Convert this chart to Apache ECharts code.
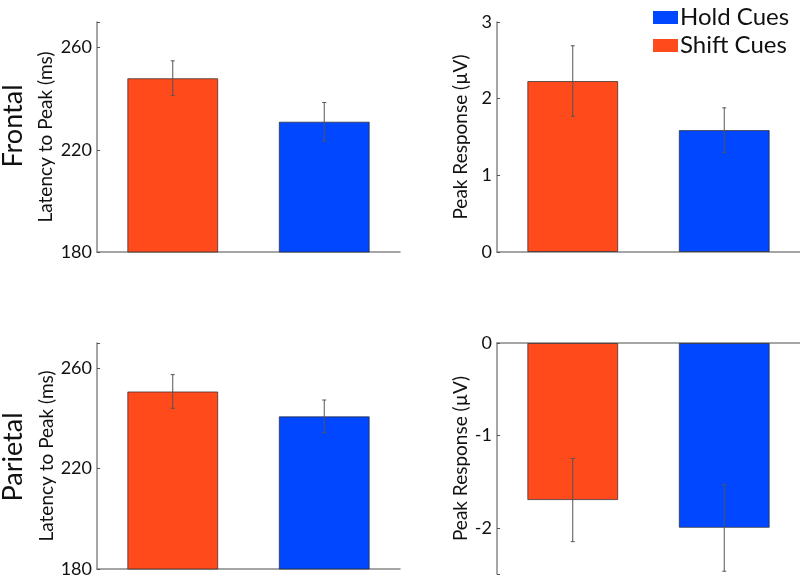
<!DOCTYPE html>
<html>
<head>
<meta charset="utf-8">
<script src="https://cdn.jsdelivr.net/npm/echarts@6/dist/echarts.min.js"></script>
<style>html,body{margin:0;padding:0;background:#fff;}#c{width:800px;height:578px;}</style>
</head>
<body>
<div id="c"></div>
<script>
const categories = ['Shift Cues', 'Hold Cues'];
const frontalLatency = [248, 231];
const frontalLatencyErr = [6.8, 7.5];
const frontalPeak = [2.23, 1.59];
const frontalPeakErr = [0.46, 0.29];
const parietalLatency = [250.7, 240.8];
const parietalLatencyErr = [6.7, 6.5];
const parietalPeak = [-1.70, -2.0];
const parietalPeakErr = [0.45, 0.47];
const latencyTicks = [180, 220, 260];
const peakTicksTop = [0, 1, 2, 3];
const peakTicksBottom = [0, -1, -2];
const rowLabels = ['Frontal', 'Parietal'];

const FONT = 'Lato';
const ORANGE = '#FF4A1C';
const BLUE = '#0047FF';
const AXIS = '#888';

const grids = [
  {left: 97, top: 22, width: 303, height: 230},
  {left: 497, top: 22, width: 303, height: 230},
  {left: 97, top: 343, width: 303, height: 231},
  {left: 497, top: 343, width: 303, height: 231}
];

function xAxis(i) {
  return {type: 'category', gridIndex: i, data: categories,
    axisLine: {show: true, onZero: true, lineStyle: {color: AXIS, width: 1.5}},
    axisTick: {show: false}, axisLabel: {show: false}, splitLine: {show: false}};
}
function yAxis(i, min, max, interval, ticks, name, gap) {
  return {type: 'value', gridIndex: i, min: min, max: max, interval: interval,
    name: name, nameLocation: 'middle', nameGap: gap, nameRotate: 90,
    nameTextStyle: {fontFamily: FONT, fontSize: 19, color: '#111'},
    axisLine: {show: true, lineStyle: {color: AXIS, width: 1.5}},
    axisTick: {show: true, inside: true, length: 3, lineStyle: {color: '#555'}},
    axisLabel: {fontFamily: FONT, fontSize: 18, color: '#111', margin: 5,
      formatter: v => ticks.indexOf(Math.round(v * 1000) / 1000) >= 0 ? String(v) : ''},
    splitLine: {show: false}};
}

function barSeries(i, vals) {
  const bs = {borderColor: 'rgba(40,40,40,0.7)', borderWidth: 1};
  return [
    {name: 'Shift Cues', type: 'bar', xAxisIndex: i, yAxisIndex: i, barWidth: '60%', barGap: '-100%',
     data: [vals[0], '-'], itemStyle: Object.assign({color: ORANGE}, bs), silent: true},
    {name: 'Hold Cues', type: 'bar', xAxisIndex: i, yAxisIndex: i, barWidth: '60%', barGap: '-100%',
     data: ['-', vals[1]], itemStyle: Object.assign({color: BLUE}, bs), silent: true}
  ];
}
function errSeries(i, vals, errs) {
  return {type: 'custom', xAxisIndex: i, yAxisIndex: i, silent: true, z: 10,
    data: vals.map((v, k) => [k, v - errs[k], v + errs[k]]),
    renderItem: function (params, api) {
      const lo = api.coord([api.value(0), api.value(1)]);
      const hi = api.coord([api.value(0), api.value(2)]);
      const s = {stroke: '#555', lineWidth: 1};
      return {type: 'group', children: [
        {type: 'line', shape: {x1: lo[0], y1: lo[1], x2: hi[0], y2: hi[1]}, style: s},
        {type: 'line', shape: {x1: lo[0] - 2, y1: lo[1], x2: lo[0] + 2, y2: lo[1]}, style: s},
        {type: 'line', shape: {x1: hi[0] - 2, y1: hi[1], x2: hi[0] + 2, y2: hi[1]}, style: s}
      ]};
    }};
}

const option = {
  animation: false,
  backgroundColor: '#fff',
  grid: grids,
  xAxis: [xAxis(0), xAxis(1), xAxis(2), xAxis(3)],
  yAxis: [
    yAxis(0, 180, 270, 40, latencyTicks, 'Latency to Peak (ms)', 42),
    yAxis(1, 0, 3, 1, peakTicksTop, 'Peak Response (µV)', 27),
    yAxis(2, 180, 270, 40, latencyTicks, 'Latency to Peak (ms)', 36),
    Object.assign(yAxis(3, -2.5, 0, undefined, peakTicksBottom, 'Peak Response (µV)', 27), {splitNumber: 3})
  ],
  legend: {
    data: ['Hold Cues', 'Shift Cues'], orient: 'vertical', left: 648, top: 0,
    itemWidth: 25, itemHeight: 13, itemGap: 3, icon: 'rect',
    itemStyle: {borderWidth: 0},
    textStyle: {fontFamily: FONT, fontSize: 24, color: '#111', lineHeight: 25, padding: [0, 0, 0, -3]}
  },
  graphic: [
    {type: 'text', x: 13, y: 126, rotation: Math.PI / 2,
     style: {text: rowLabels[0], fontFamily: FONT, fontSize: 27, fill: '#111', align: 'center', verticalAlign: 'middle'}},
    {type: 'text', x: 13, y: 457, rotation: Math.PI / 2,
     style: {text: rowLabels[1], fontFamily: FONT, fontSize: 27, fill: '#111', align: 'center', verticalAlign: 'middle'}}
  ],
  series: [].concat(
    barSeries(0, frontalLatency), [errSeries(0, frontalLatency, frontalLatencyErr)],
    barSeries(1, frontalPeak), [errSeries(1, frontalPeak, frontalPeakErr)],
    barSeries(2, parietalLatency), [errSeries(2, parietalLatency, parietalLatencyErr)],
    barSeries(3, parietalPeak), [errSeries(3, parietalPeak, parietalPeakErr)]
  )
};
const chart = echarts.init(document.getElementById('c'));
chart.setOption(option);
</script>
</body>
</html>
